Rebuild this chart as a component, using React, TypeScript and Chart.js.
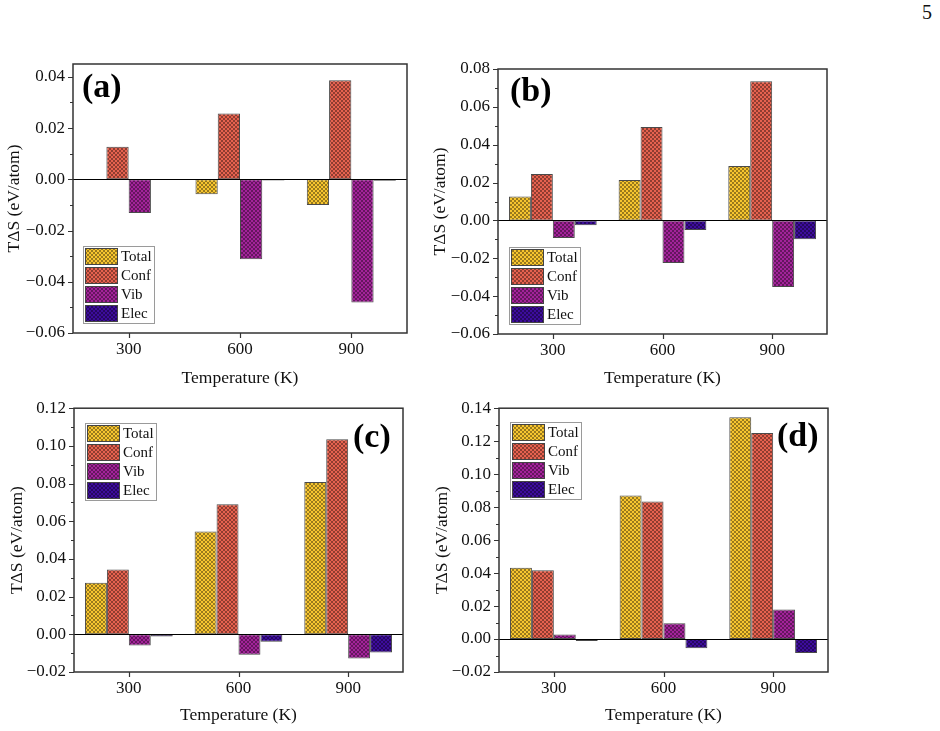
import React, { useEffect, useRef } from "react";
import { Chart, registerables } from "chart.js";

Chart.register(...registerables);

// ---------- data ----------
const temperatures = ["300", "600", "900"];
const seriesNames = ["Total", "Conf", "Vib", "Elec"];
const seriesColors = ["#F7C52F", "#E6624F", "#A3239A", "#3D0C9C"];

const totalA = [0, -0.0058, -0.01];
const confA = [0.0127, 0.0257, 0.0387];
const vibA = [-0.0132, -0.0312, -0.0481];
const elecA = [-0.0003, -0.0005, -0.0006];

const totalB = [0.0127, 0.0213, 0.0287];
const confB = [0.0245, 0.0493, 0.0735];
const vibB = [-0.0093, -0.0225, -0.0352];
const elecB = [-0.0025, -0.0051, -0.0099];

const totalC = [0.0273, 0.0545, 0.0808];
const confC = [0.0344, 0.069, 0.1035];
const vibC = [-0.006, -0.0108, -0.0129];
const elecC = [-0.0012, -0.0039, -0.0097];

const totalD = [0.0433, 0.087, 0.1345];
const confD = [0.0417, 0.0834, 0.1249];
const vibD = [0.0028, 0.0095, 0.0179];
const elecD = [-0.0012, -0.0056, -0.0085];

const majorTicksAB = [-0.06, -0.04, -0.02, 0, 0.02, 0.04, 0.06, 0.08];
const minorTicksAB = [-0.05, -0.03, -0.01, 0.01, 0.03, 0.05, 0.07];
const majorTicksCD = [-0.02, 0, 0.02, 0.04, 0.06, 0.08, 0.1, 0.12, 0.14];
const minorTicksCD = [-0.01, 0.01, 0.03, 0.05, 0.07, 0.09, 0.11, 0.13];

const yTitle = "T\u0394S (eV/atom)";
const xTitle = "Temperature (K)";

const FONT = "'Liberation Serif', 'Times New Roman', serif";

type Panel = {
  label: string;
  canvas: { x: number; y: number; w: number; h: number };
  plot: { l: number; t: number; r: number; b: number };
  yMin: number;
  yMax: number;
  data: number[][];
  legend: { x: number; y: number };
  labelPos: { x: number; y: number };
  yTitleX: number;
  xTitleY: number;
};

const panels: Panel[] = [
  {
    label: "(a)",
    canvas: { x: 0, y: 35, w: 425, h: 355 },
    plot: { l: 73, t: 64, r: 407, b: 333 },
    yMin: -0.06,
    yMax: 0.045,
    data: [totalA, confA, vibA, elecA],
    legend: { x: 83, y: 246 },
    labelPos: { x: 82, y: 88 },
    yTitleX: 14,
    xTitleY: 378,
  },
  {
    label: "(b)",
    canvas: { x: 425, y: 35, w: 430, h: 355 },
    plot: { l: 498, t: 69, r: 827, b: 334 },
    yMin: -0.06,
    yMax: 0.08,
    data: [totalB, confB, vibB, elecB],
    legend: { x: 509, y: 247 },
    labelPos: { x: 510, y: 92 },
    yTitleX: 440,
    xTitleY: 378,
  },
  {
    label: "(c)",
    canvas: { x: 0, y: 390, w: 425, h: 341 },
    plot: { l: 74, t: 407, r: 403, b: 672 },
    yMin: -0.02,
    yMax: 0.12,
    data: [totalC, confC, vibC, elecC],
    legend: { x: 85, y: 423 },
    labelPos: { x: 353, y: 438 },
    yTitleX: 17,
    xTitleY: 715,
  },
  {
    label: "(d)",
    canvas: { x: 425, y: 390, w: 430, h: 341 },
    plot: { l: 499, t: 408, r: 828, b: 672 },
    yMin: -0.02,
    yMax: 0.14,
    data: [totalD, confD, vibD, elecD],
    legend: { x: 510, y: 422 },
    labelPos: { x: 777, y: 437 },
    yTitleX: 442,
    xTitleY: 715,
  },
];

function shade(hex: string, f: number) {
  const n = parseInt(hex.slice(1), 16);
  const r = Math.round(((n >> 16) & 255) * f);
  const g = Math.round(((n >> 8) & 255) * f);
  const b = Math.round((n & 255) * f);
  return `rgb(${r},${g},${b})`;
}

function makePattern(ctx: CanvasRenderingContext2D, color: string) {
  const c = document.createElement("canvas");
  c.width = 4;
  c.height = 4;
  const p = c.getContext("2d")!;
  p.fillStyle = color;
  p.fillRect(0, 0, 4, 4);
  p.fillStyle = shade(color, 0.62);
  for (let i = 0; i < 4; i++) {
    p.fillRect(i, i, 1, 1);
    p.fillRect(3 - i, i, 1, 1);
  }
  return ctx.createPattern(c, "repeat") as CanvasPattern;
}

function fmt(v: number) {
  const a = Math.abs(v);
  if (a < 1e-9) return "0.00";
  return (v < 0 ? "\u2212" : "") + a.toFixed(2);
}

function PanelChart({ panel }: { panel: Panel }) {
  const ref = useRef<HTMLCanvasElement>(null);
  useEffect(() => {
    const canvas = ref.current!;
    const ctx = canvas.getContext("2d")!;
    const patterns = seriesColors.map((c) => makePattern(ctx, c));
    const { canvas: cv, plot } = panel;
    const majors = (panel.yMax > 0.1 ? majorTicksCD : majorTicksAB).filter(
      (v) => v >= panel.yMin - 1e-9 && v <= panel.yMax + 1e-9
    );
    const minors = (panel.yMax > 0.1 ? minorTicksCD : minorTicksAB).filter(
      (v) => v >= panel.yMin - 1e-9 && v <= panel.yMax + 1e-9
    );
    const titleFont = { family: FONT, size: 17.5, lineHeight: 1.2 };
    const tickFont = { family: FONT, size: 17, lineHeight: 1.2 };
    const half = 10.5;

    const decor = {
      id: "decor",
      afterDraw(chart: any) {
        const c = chart.ctx as CanvasRenderingContext2D;
        const { left, right, top, bottom } = chart.chartArea;
        const ys = chart.scales.y;
        const xs = chart.scales.x;
        c.save();
        // zero line
        const y0 = Math.round(ys.getPixelForValue(0)) + 0.5;
        c.strokeStyle = "#000";
        c.lineWidth = 1;
        c.beginPath();
        c.moveTo(left, y0);
        c.lineTo(right, y0);
        c.stroke();
        // frame
        c.strokeStyle = "#333";
        c.lineWidth = 1.5;
        c.strokeRect(left, top, right - left, bottom - top);
        // y ticks
        c.lineWidth = 1.2;
        c.beginPath();
        majors.forEach((v) => {
          const y = Math.round(ys.getPixelForValue(v)) + 0.5;
          c.moveTo(left - 5, y);
          c.lineTo(left, y);
        });
        minors.forEach((v) => {
          const y = Math.round(ys.getPixelForValue(v)) + 0.5;
          c.moveTo(left - 3, y);
          c.lineTo(left, y);
        });
        // x ticks
        temperatures.forEach((_, i) => {
          const x = Math.round(xs.getPixelForValue(i)) + 0.5;
          c.moveTo(x, bottom);
          c.lineTo(x, bottom + 5);
        });
        c.stroke();
        // legend
        const lx = panel.legend.x - cv.x;
        const ly = panel.legend.y - cv.y;
        c.fillStyle = "#fff";
        c.fillRect(lx, ly, 71, 77);
        c.strokeStyle = "#9a9a9a";
        c.lineWidth = 1;
        c.strokeRect(lx + 0.5, ly + 0.5, 71, 77);
        seriesNames.forEach((name, i) => {
          const sy = ly + 2.5 + i * 19;
          c.fillStyle = patterns[i];
          c.fillRect(lx + 2.5, sy, 32, 16);
          c.strokeStyle = "#444";
          c.lineWidth = 1;
          c.strokeRect(lx + 2.5, sy, 32, 16);
          c.fillStyle = "#111";
          c.font = `15px ${FONT}`;
          c.textAlign = "left";
          c.textBaseline = "middle";
          c.fillText(name, lx + 38, sy + 8.5);
        });
        // panel label
        c.fillStyle = "#000";
        c.font = `bold 34px ${FONT}`;
        c.textAlign = "left";
        c.textBaseline = "middle";
        c.fillText(panel.label, panel.labelPos.x - cv.x, panel.labelPos.y - cv.y);
        c.restore();
      },
    };

    const chart = new Chart(ctx, {
      type: "bar",
      data: {
        labels: temperatures,
        datasets: seriesNames.map((name, i) => ({
          label: name,
          data: panel.data[i],
          backgroundColor: patterns[i],
          borderColor: "#4a4a4a",
          borderWidth: 1,
          borderSkipped: false,
          categoryPercentage: 0.8,
          barPercentage: 1,
        })),
      },
      options: {
        animation: false,
        responsive: false,
        maintainAspectRatio: false,
        events: [],
        layout: {
          padding: {
            left: 0,
            top: plot.t - cv.y,
            right: cv.x + cv.w - plot.r,
            bottom: 0,
          },
        },
        plugins: {
          legend: { display: false },
          tooltip: { enabled: false },
        },
        scales: {
          x: {
            type: "category",
            offset: true,
            grid: { display: false, drawTicks: false },
            border: { display: false },
            ticks: { padding: 6, font: tickFont, color: "#111" },
            title: {
              display: true,
              text: xTitle,
              font: titleFont,
              color: "#111",
              padding: { top: 0, bottom: cv.y + cv.h - half - panel.xTitleY },
            },
            afterFit: (s: any) => {
              s.height = cv.y + cv.h - plot.b;
            },
          },
          y: {
            type: "linear",
            min: panel.yMin,
            max: panel.yMax,
            grid: { display: false, drawTicks: false },
            border: { display: false },
            afterBuildTicks: (s: any) => {
              s.ticks = majors.map((v) => ({ value: v }));
            },
            ticks: {
              padding: 8,
              font: tickFont,
              color: "#111",
              callback: (v: any) => fmt(Number(v)),
            },
            title: {
              display: true,
              text: yTitle,
              font: titleFont,
              color: "#111",
              padding: { top: panel.yTitleX - cv.x - half, bottom: 0 },
            },
            afterFit: (s: any) => {
              s.width = plot.l - cv.x;
            },
          },
        },
      } as any,
      plugins: [decor],
    });
    return () => chart.destroy();
  }, [panel]);

  return (
    <canvas
      ref={ref}
      width={panel.canvas.w}
      height={panel.canvas.h}
      style={{
        position: "absolute",
        left: panel.canvas.x,
        top: panel.canvas.y,
        width: panel.canvas.w,
        height: panel.canvas.h,
        display: "block",
      }}
    />
  );
}

export default function App() {
  return (
    <div
      style={{
        position: "absolute",
        left: 0,
        top: 0,
        width: 940,
        height: 731,
        background: "#fff",
        overflow: "hidden",
      }}
    >
      <div
        style={{
          position: "absolute",
          left: 922,
          top: 1,
          fontFamily: FONT,
          fontSize: 20,
          color: "#111",
        }}
      >
        5
      </div>
      {panels.map((p) => (
        <PanelChart key={p.label} panel={p} />
      ))}
    </div>
  );
}
